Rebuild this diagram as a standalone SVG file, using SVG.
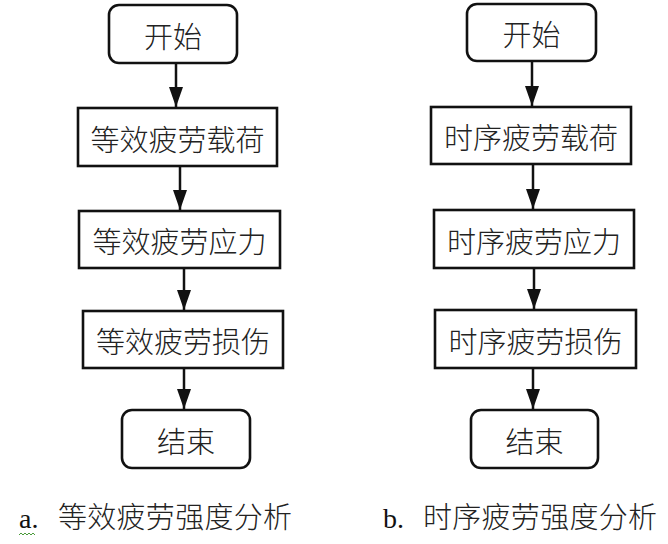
<svg xmlns="http://www.w3.org/2000/svg" width="668" height="544" viewBox="0 0 668 544">
<style>
.box{fill:#fff;stroke:#111;stroke-width:2.6}
.t{font-family:"Noto Sans CJK SC","Noto Sans CJK JP",sans-serif;font-size:29px;font-weight:300;fill:#222;text-anchor:middle;dominant-baseline:central}
.cap{font-family:"Noto Sans CJK SC","Noto Sans CJK JP",sans-serif;font-size:29px;font-weight:300;fill:#222}
.lat{font-family:"Liberation Serif",serif;font-size:28px;fill:#111}
.c{stroke:#111;stroke-width:2.5;fill:none}
</style>
<defs>
<marker id="ah" viewBox="0 0 20 14" refX="20" refY="7" markerWidth="20" markerHeight="14" markerUnits="userSpaceOnUse" orient="auto">
<path d="M0,0 L20,7 L0,14 Z" fill="#111"/>
</marker>
</defs>
<rect width="668" height="544" fill="#fff"/>
<g id="connectors">
<line class="c" x1="176" y1="64" x2="176" y2="107" marker-end="url(#ah)"/>
<line class="c" x1="180" y1="167" x2="180" y2="210" marker-end="url(#ah)"/>
<line class="c" x1="184" y1="269" x2="184" y2="310" marker-end="url(#ah)"/>
<line class="c" x1="184" y1="369" x2="184" y2="409" marker-end="url(#ah)"/>
<line class="c" x1="532" y1="62" x2="532" y2="106" marker-end="url(#ah)"/>
<line class="c" x1="533" y1="165" x2="533" y2="209" marker-end="url(#ah)"/>
<line class="c" x1="534" y1="269" x2="534" y2="309" marker-end="url(#ah)"/>
<line class="c" x1="533" y1="369" x2="533" y2="409" marker-end="url(#ah)"/>
</g>
<g id="a-start"><rect class="box" x="109" y="5" width="128" height="58" rx="10"/><text class="t" x="173" y="35">开始</text></g>
<g id="a-load"><rect class="box" x="78" y="108" width="199" height="58"/><text class="t" x="177.5" y="138">等效疲劳载荷</text></g>
<g id="a-stress"><rect class="box" x="79" y="211" width="201" height="57"/><text class="t" x="179.5" y="240">等效疲劳应力</text></g>
<g id="a-damage"><rect class="box" x="83" y="311" width="200" height="57"/><text class="t" x="183" y="340">等效疲劳损伤</text></g>
<g id="a-end"><rect class="box" x="122" y="410" width="128" height="58" rx="10"/><text class="t" x="186" y="440">结束</text></g>
<g id="b-start"><rect class="box" x="467" y="4" width="129" height="57" rx="10"/><text class="t" x="531.5" y="33">开始</text></g>
<g id="b-load"><rect class="box" x="431" y="107" width="200" height="57"/><text class="t" x="531" y="136">时序疲劳载荷</text></g>
<g id="b-stress"><rect class="box" x="434" y="210" width="200" height="58"/><text class="t" x="534" y="240">时序疲劳应力</text></g>
<g id="b-damage"><rect class="box" x="435" y="310" width="201" height="58"/><text class="t" x="535.5" y="340">时序疲劳损伤</text></g>
<g id="b-end"><rect class="box" x="471" y="410" width="127" height="58" rx="10"/><text class="t" x="534.5" y="440">结束</text></g>
<g id="captions">
<text class="lat" x="19" y="528">a.</text>
<path d="M19,535 l2,-2 l2,2 l2,-2 l2,2 l2,-2 l2,2 l2,-2 l2,2" stroke="#4a9a3a" stroke-width="1" fill="none"/>
<text class="cap" x="58" y="528" textLength="234">等效疲劳强度分析</text>
<text class="lat" x="383" y="528">b.</text>
<text class="cap" x="423" y="528" textLength="234">时序疲劳强度分析</text>
</g>
</svg>
